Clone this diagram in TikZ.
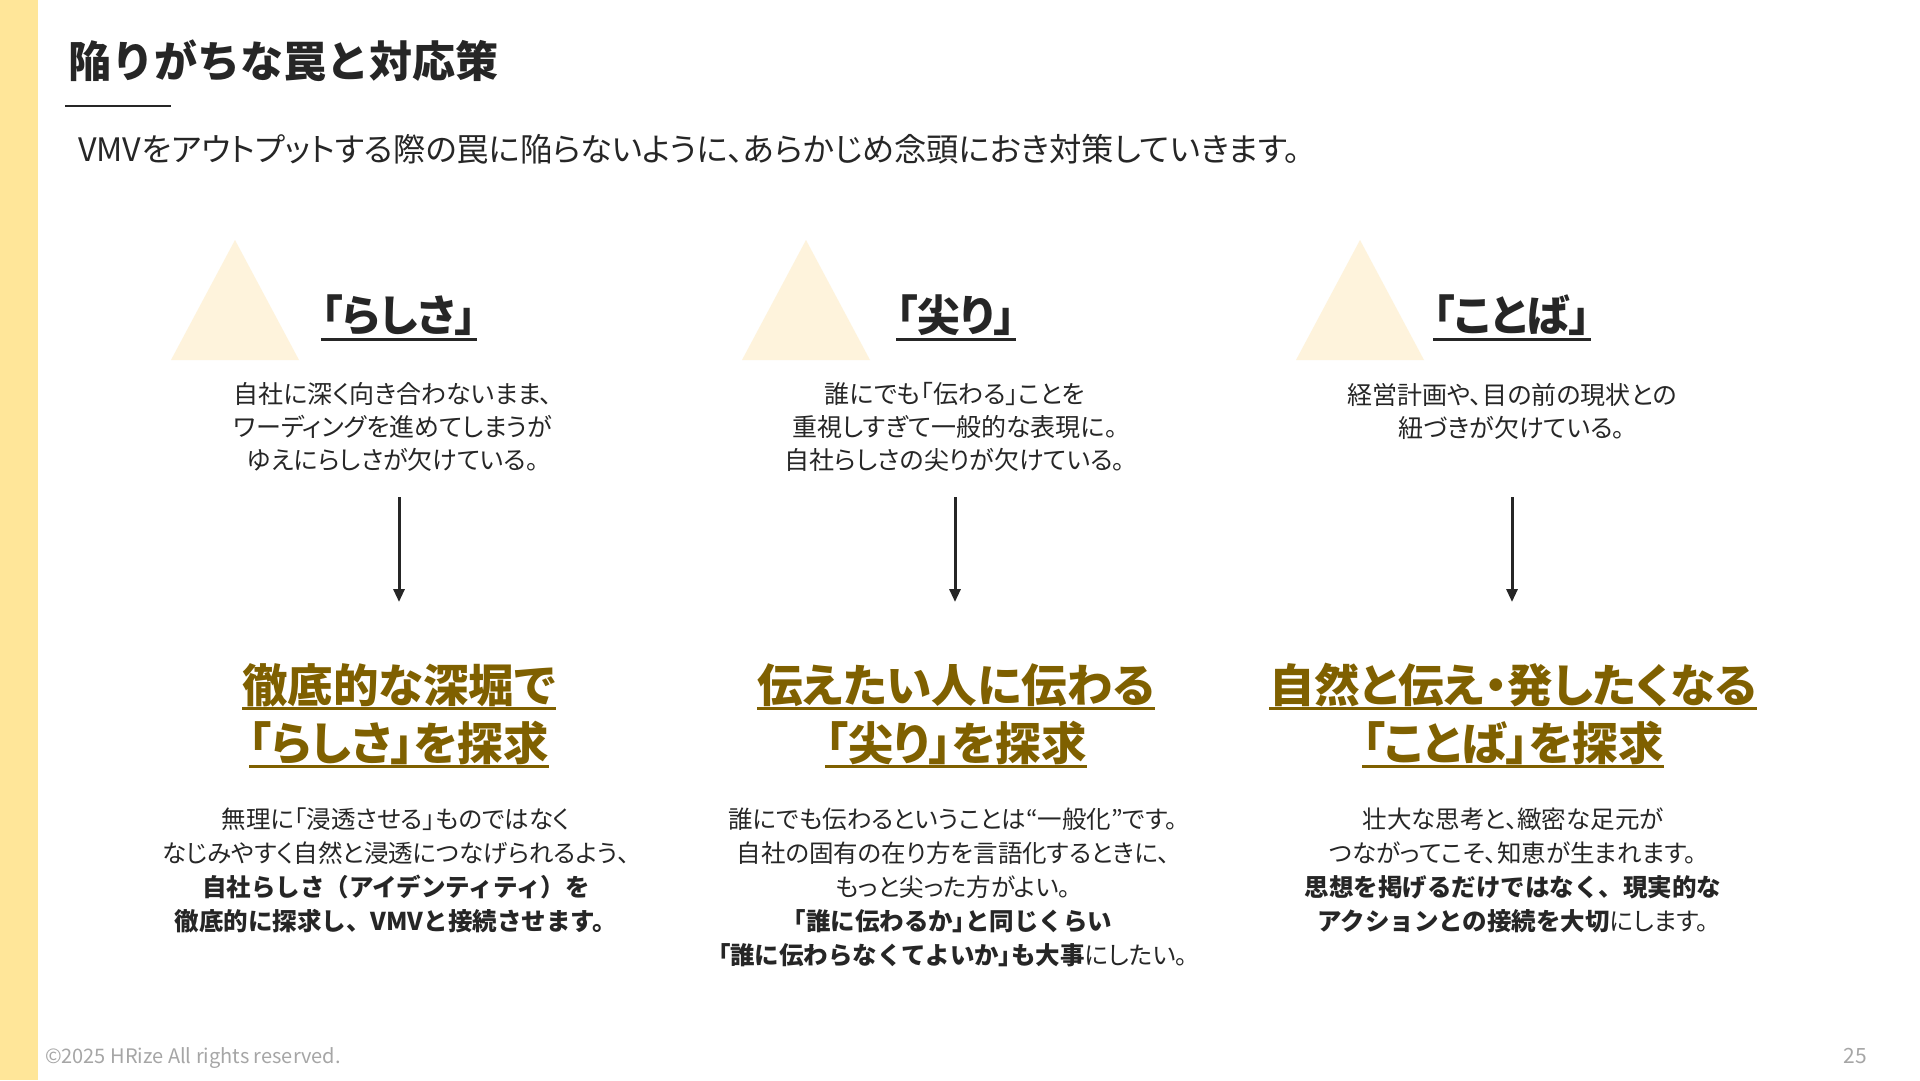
\documentclass[tikz,border=0pt]{standalone}
\usepackage{fontspec}
\setmainfont{Noto Sans CJK JP}[RawFeature=+palt]
\newfontfamily\jpnp{Noto Sans CJK JP}
\usetikzlibrary{arrows.meta}
\definecolor{barY}{HTML}{FFE699}
\definecolor{triY}{HTML}{FEF3DC}
\definecolor{gold}{HTML}{7F6000}
\definecolor{ink}{HTML}{262626}
\definecolor{foot}{HTML}{A6A6A6}
\newcommand{\bnp}[1]{{\jpnp\bfseries #1}}
\newcommand{\bpb}[1]{{\bfseries #1}}
\tikzset{
  every node/.style={inner sep=0pt, outer sep=0pt, text=ink},
  ttl/.style={font=\jpnp\bfseries\fontsize{43}{50}\selectfont, anchor=west},
  sub/.style={font=\fontsize{32.3}{38}\selectfont, anchor=west},
  head/.style={font=\bfseries\fontsize{43}{48}\selectfont},
  desc/.style={font=\fontsize{25}{33}\selectfont, align=center},
  goldhead/.style={font=\bfseries\fontsize{45.5}{50}\selectfont, text=gold},
  body/.style={font=\fontsize{24.5}{34}\selectfont, align=center},
  tri/.style={fill=triY, draw=none},
  downarrow/.style={draw=ink, line width=3pt, -{Triangle[length=13pt,width=11pt]}},
  hline/.style={draw=ink, line width=3pt},
  gline/.style={draw=gold, line width=3pt},
  footer/.style={font=\fontsize{20}{24}\selectfont, text=foot},
}
\begin{document}
\begin{tikzpicture}[x=1pt,y=-1pt]
\useasboundingbox (0,0) rectangle (1920,1080);
\fill[white] (0,0) rectangle (1920,1080);
\fill[barY] (0,0) rectangle (38,1080);

% title
\node[ttl] (title) at (68,61) {陥りがちな罠と対応策};
\draw[draw=ink, line width=2pt] (65,106) -- (171,106);
\node[sub] (subtitle) at (78,149) {VMVをアウトプットする際の罠に陥らないように、あらかじめ念頭におき対策していきます。};

% triangles
\fill[tri] (235,240) -- (299,360) -- (171,360) -- cycle;
\fill[tri] (806,240) -- (870,360) -- (742,360) -- cycle;
\fill[tri] (1360,240) -- (1424,360) -- (1296,360) -- cycle;

% headings
\node[head] (h1) at (399,315) {「らしさ」};
\node[head] (h2) at (956,315) {「尖り」};
\node[head] (h3) at (1512,315) {「ことば」};
\foreach \n in {h1,h2,h3}
  \draw[hline] ([yshift=-24pt]\n.west) -- ([yshift=-24pt]\n.east);

% descriptions
\node[desc] (d1) at (393,427) {自社に深く向き合わないまま、\\ワーディングを進めてしまうが\\ゆえにらしさが欠けている。};
\node[desc] (d2) at (955,427) {誰にでも「伝わる」ことを\\重視しすぎて一般的な表現に。\\自社らしさの尖りが欠けている。};
\node[desc] (d3) at (1512,411) {経営計画や、目の前の現状との\\紐づきが欠けている。};

% arrows
\coordinate (a1s) at (399,497); \coordinate (a1e) at (399,602);
\coordinate (a2s) at (955,497); \coordinate (a2e) at (955,602);
\coordinate (a3s) at (1512,497); \coordinate (a3e) at (1512,602);
\draw[downarrow] (a1s) -- (a1e);
\draw[downarrow] (a2s) -- (a2e);
\draw[downarrow] (a3s) -- (a3e);

% gold headings
\node[goldhead] (g1a) at (399,685) {徹底的な深堀で};
\node[goldhead] (g1b) at (399,743) {「らしさ」を探求};
\node[goldhead] (g2a) at (956,685) {伝えたい人に伝わる};
\node[goldhead] (g2b) at (956,743) {「尖り」を探求};
\node[goldhead] (g3a) at (1513,685) {自然と伝え・発したくなる};
\node[goldhead] (g3b) at (1513,743) {「ことば」を探求};
\foreach \n in {g1a,g1b,g2a,g2b,g3a,g3b}
  \draw[gline] ([yshift=-23pt]\n.west) -- ([yshift=-23pt]\n.east);

% body texts
\node[body, anchor=north] (b1) at (396,808) {無理に「浸透させる」ものではなく\\なじみやすく自然と浸透につなげられるよう、\\\bnp{自社らしさ（アイデンティティ）を}\\\bnp{徹底的に探求し、VMVと接続させます。}};
\node[body, anchor=north] (b2) at (953,808) {誰にでも伝わるということは“一般化”です。\\自社の固有の在り方を言語化するときに、\\もっと尖った方がよい。\\\bpb{「}\bnp{誰に伝わるか}\bpb{」}\bnp{と同じくらい}\\\bpb{「}\bnp{誰に伝わらなくてよいか}\bpb{」}\bnp{も大事}にしたい。};
\node[body, anchor=north] (b3) at (1513,808) {壮大な思考と、緻密な足元が\\つながってこそ、知恵が生まれます。\\\bnp{思想を掲げるだけではなく、現実的な}\\\bnp{アクションとの接続を大切}にします。};

% footer
\node[footer, anchor=west] (copy) at (45,1058) {©2025 HRize All rights reserved.};
\node[footer, anchor=center, font=\fontsize{21}{24}\selectfont] (pageno) at (1855,1056) {25};
\end{tikzpicture}
\end{document}
